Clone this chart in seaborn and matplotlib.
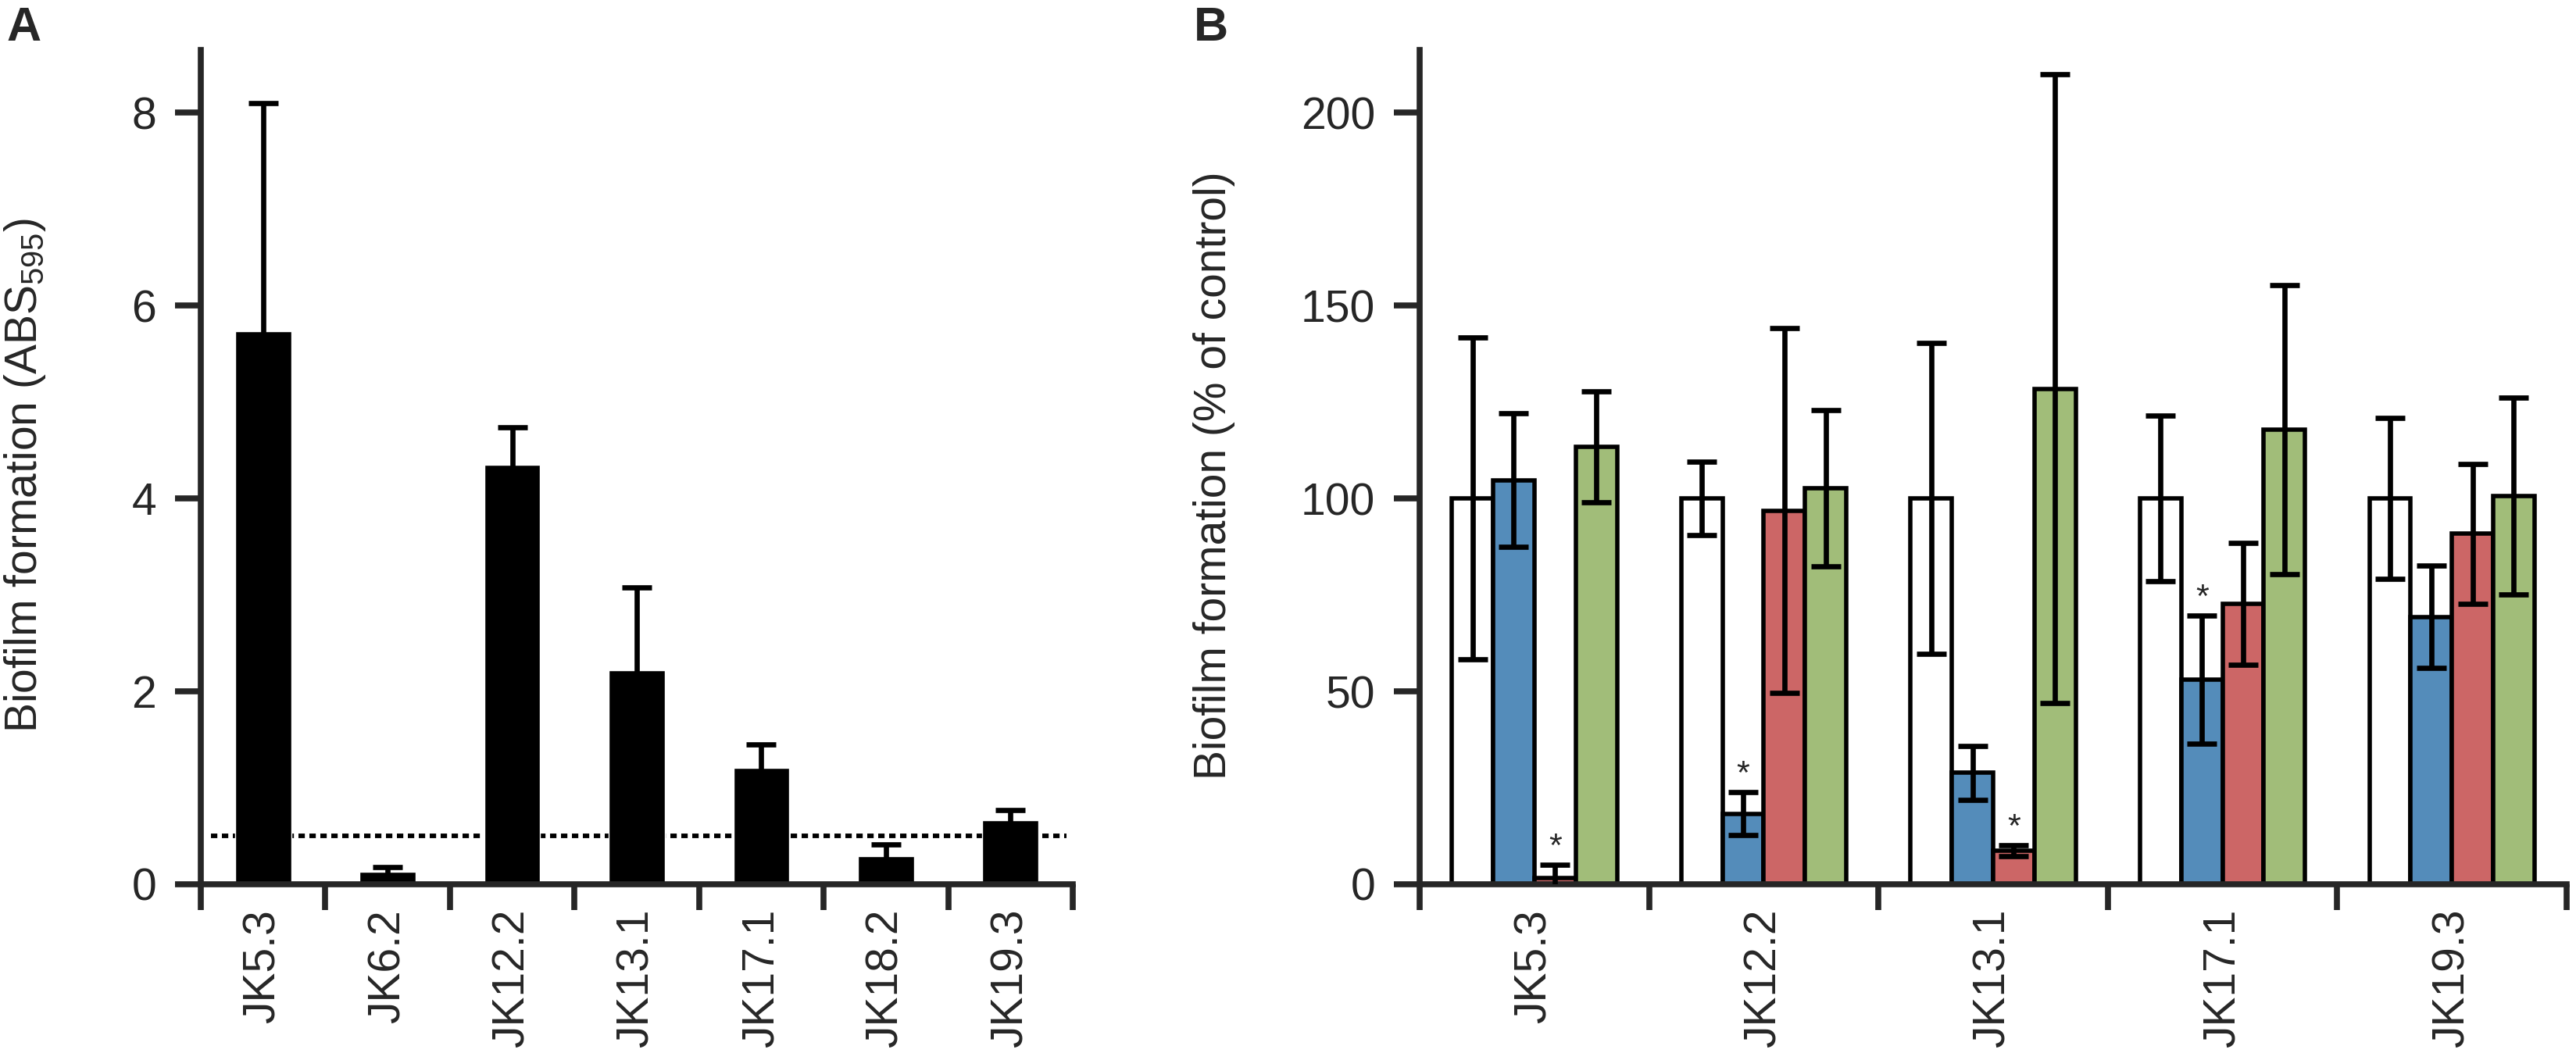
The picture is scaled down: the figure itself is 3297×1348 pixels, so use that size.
import numpy as np
import pandas as pd
import matplotlib
matplotlib.use("Agg")
import matplotlib.pyplot as plt
import seaborn as sns

# --- Panel A: biofilm formation (ABS595) ---
strains_a = ['JK5.3', 'JK6.2', 'JK12.2', 'JK13.1', 'JK17.1', 'JK18.2', 'JK19.3']
abs_mean = [5.73, 0.13, 4.35, 2.22, 1.21, 0.29, 0.66]
abs_sd = [2.37, 0.05, 0.39, 0.86, 0.24, 0.12, 0.11]
cutoff = 0.5

# --- Panel B: biofilm formation (% of control) ---
strains_b = ['JK5.3', 'JK12.2', 'JK13.1', 'JK17.1', 'JK19.3']
treatments = ['Control', 'T1', 'T2', 'T3']
pct_control = [100, 100, 100, 100, 100]
pct_t1 = [104.7, 18.3, 28.9, 53.0, 69.3]
pct_t2 = [1.7, 96.8, 8.7, 72.7, 90.8]
pct_t3 = [113.4, 102.6, 128.4, 117.8, 100.6]
sd_control = [41.7, 9.5, 40.3, 21.4, 20.8]
sd_t1 = [17.3, 5.6, 7.0, 16.6, 13.2]
sd_t2 = [3.3, 47.3, 1.4, 15.8, 18.2]
sd_t3 = [14.4, 20.2, 81.5, 37.4, 25.5]
signif = [('JK5.3', 'T2'), ('JK12.2', 'T1'), ('JK13.1', 'T2'), ('JK17.1', 'T1')]

colors_b = ['white', '#548cba', '#cc6666', '#a1bd79']

sns.set_style('ticks')
plt.rcParams['font.family'] = ['Liberation Sans', 'DejaVu Sans']
plt.rcParams['mathtext.fontset'] = 'custom'
plt.rcParams['mathtext.rm'] = 'Liberation Sans'
plt.rcParams['mathtext.it'] = 'Liberation Sans:italic'

FS = 41

# long table for seaborn
rows = []
for t, vals, sds in zip(treatments,
                        [pct_control, pct_t1, pct_t2, pct_t3],
                        [sd_control, sd_t1, sd_t2, sd_t3]):
    for s, v, e in zip(strains_b, vals, sds):
        rows.append({'strain': s, 'treatment': t, 'pct': v, 'sd': e})
df_b = pd.DataFrame(rows)
df_a = pd.DataFrame({'strain': strains_a, 'abs': abs_mean, 'sd': abs_sd})

fig = plt.figure(figsize=(32.97, 13.48), dpi=100)
axA = fig.add_axes([0.07795, 0.16024, 0.33849, 0.79228])
axB = fig.add_axes([0.55111, 0.16024, 0.44525, 0.79228])


def style_axis(ax, n):
    sns.despine(ax=ax)
    for side in ['left', 'bottom']:
        ax.spines[side].set_linewidth(5.5)
    ax.set_xlim(-0.5, n - 0.5)
    ax.set_xticks(np.arange(-0.5, n), minor=True)
    ax.tick_params(axis='x', which='minor', length=24, width=5.5)
    ax.tick_params(axis='x', which='major', length=0, pad=23,
                   labelsize=FS, labelrotation=90)
    ax.tick_params(axis='y', length=24, width=5.5, pad=17, labelsize=FS)
    ax.set_xlabel('')


def add_errors(ax, container, means, sds):
    xs = [p.get_x() + p.get_width() / 2 for p in container]
    ax.errorbar(xs, means, yerr=sds, fmt='none', ecolor='black',
                elinewidth=4.8, capsize=14, capthick=4.8, zorder=4)


# --- Panel A ---
sns.barplot(data=df_a, x='strain', y='abs', order=strains_a, color='black',
            width=0.45, errorbar=None, saturation=1, ax=axA)
add_errors(axA, axA.containers[0], df_a['abs'], df_a['sd'])
axA.axhline(cutoff, xmin=0.012, xmax=0.993, color='black', lw=4.2,
            ls=(0, (1.4, 1.0)), zorder=0)
style_axis(axA, len(strains_a))
axA.set_ylim(0, 8.648)
axA.set_yticks([0, 2, 4, 6, 8])
axA.set_ylabel('Biofilm formation (ABS$_{595}$)', fontsize=FS)
axA.yaxis.set_label_coords(-0.176, 0.49)

# --- Panel B ---
sns.barplot(data=df_b, x='strain', y='pct', hue='treatment', order=strains_b,
            hue_order=treatments, palette=colors_b, width=0.72, errorbar=None,
            edgecolor='black', linewidth=4, saturation=1, legend=False, ax=axB)
for t, cont in zip(treatments, axB.containers):
    sub = df_b[df_b['treatment'] == t].set_index('strain').loc[strains_b]
    add_errors(axB, cont, sub['pct'], sub['sd'])

for s, t in signif:
    row = df_b[(df_b['strain'] == s) & (df_b['treatment'] == t)].iloc[0]
    p = axB.containers[treatments.index(t)][strains_b.index(s)]
    axB.text(p.get_x() + p.get_width() / 2, row['pct'] + row['sd'] + 2.2, '*',
             ha='center', va='baseline', fontsize=31, zorder=5)

style_axis(axB, len(strains_b))
axB.set_ylim(0, 216.2)
axB.set_yticks([0, 50, 100, 150, 200])
axB.set_ylabel('Biofilm formation (% of control)', fontsize=FS)
axB.yaxis.set_label_coords(-0.161, 0.49)

fig.text(8 / 3297, 1 - 8 / 1348, 'A', fontsize=44, fontweight='bold', va='top', ha='left')
fig.text(1528 / 3297, 1 - 8 / 1348, 'B', fontsize=44, fontweight='bold', va='top', ha='left')

fig.savefig('out.png', dpi=100)
